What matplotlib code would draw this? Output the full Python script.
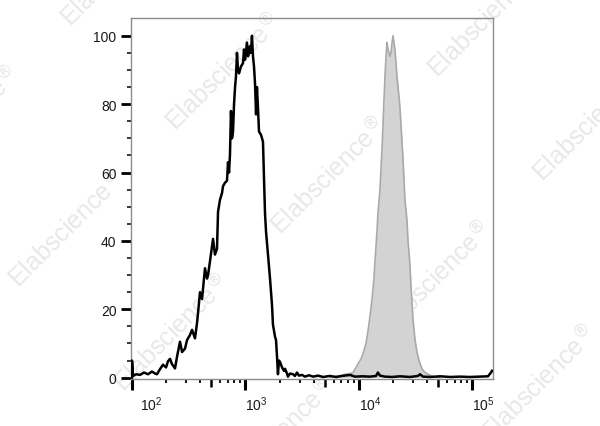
import numpy as np
import matplotlib
matplotlib.use("Agg")
import matplotlib.pyplot as plt
import matplotlib.transforms as mtransforms
from matplotlib.ticker import FixedLocator, NullFormatter

plt.rcParams['font.family'] = ['Liberation Sans', 'DejaVu Sans']

# black histogram (unstained / isotype), x given as log10 of intensity
black_log_x = [2.000, 2.000, 2.009, 2.035, 2.070, 2.106, 2.141, 2.176, 2.203, 2.220,
               2.247, 2.273, 2.300, 2.317, 2.335, 2.352, 2.379, 2.396, 2.423, 2.441,
               2.467, 2.485, 2.511, 2.529, 2.555, 2.573, 2.582, 2.599, 2.617, 2.643,
               2.661, 2.670, 2.687, 2.714, 2.731, 2.749, 2.758, 2.775, 2.793, 2.802,
               2.819, 2.837, 2.846, 2.855, 2.863, 2.872, 2.881, 2.890, 2.899, 2.908,
               2.916, 2.925, 2.934, 2.943, 2.960, 2.978, 2.987, 2.996, 3.013, 3.022,
               3.031, 3.040, 3.048, 3.057, 3.066, 3.075, 3.084, 3.093, 3.101, 3.110,
               3.119, 3.137, 3.154, 3.163, 3.172, 3.181, 3.198, 3.216, 3.234, 3.242,
               3.260, 3.269, 3.278, 3.286, 3.295, 3.304, 3.322, 3.339, 3.348, 3.366,
               3.374, 3.392, 3.419, 3.436, 3.454, 3.471, 3.498, 3.524, 3.560, 3.595,
               3.639, 3.683, 3.744, 3.797, 3.850, 3.921, 3.965, 4.026, 4.097, 4.150,
               4.167, 4.185, 4.229, 4.291, 4.361, 4.449, 4.520, 4.537, 4.564, 4.626,
               4.714, 4.802, 4.890, 4.978, 5.066, 5.137, 5.163, 5.172]
black_y = [0, 5, 0.5, 1, 0.8, 1.5, 1, 1.8, 1.2, 1,
           2.5, 3.8, 3, 4.8, 5.5, 4, 2.7, 6, 10.5, 7.5,
           8.5, 11, 12.5, 14, 11.5, 16, 19, 25, 23, 32,
           29, 30, 34, 40.6, 36, 37.7, 48.5, 52, 54, 56,
           57, 57.6, 63, 60, 65, 78, 70, 72, 80, 85,
           88, 95, 90, 89, 91, 92, 96, 93, 98, 94,
           95, 97, 95, 100, 94, 91, 86, 77, 85, 79,
           72, 71, 69, 58, 48, 42.7, 36, 29, 21, 15.5,
           12, 11, 6, 1, 5, 4.6, 3, 2, 2.6, 1.2,
           0.3, 1.2, 1, 0.5, 1.5, 0.6, 0.8, 0.3, 0.7, 0.3,
           0.6, 0.2, 0.5, 0.2, 0.5, 0.8, 0.3, 0.4, 0.3, 0.5,
           1.5, 0.6, 0.3, 0.2, 0.4, 0.2, 0.5, 1, 0.3, 0.2,
           0.4, 0.2, 0.3, 0.2, 0.3, 0.4, 1.5, 2]

# grey filled histogram (stained sample)
gray_log_x = [3.744, 3.833, 3.877, 3.921, 3.947, 3.974, 3.991, 4.018, 4.035, 4.062,
              4.079, 4.097, 4.115, 4.132, 4.141, 4.159, 4.167, 4.185, 4.203, 4.220,
              4.229, 4.238, 4.247, 4.256, 4.264, 4.273, 4.282, 4.291, 4.300, 4.308,
              4.317, 4.335, 4.353, 4.361, 4.379, 4.388, 4.405, 4.423, 4.432, 4.449,
              4.458, 4.476, 4.494, 4.511, 4.529, 4.555, 4.582, 4.608, 4.652, 4.714]
gray_y = [0.2, 0.5, 1, 1.2, 1.5, 3, 4, 5.5, 7, 10,
          13.5, 18, 23, 29, 34, 43, 48, 55, 67, 81,
          88, 94, 98, 96, 95, 94, 95, 98, 100, 98,
          96, 88, 82, 79, 69, 64, 52, 46, 40, 33,
          27, 17, 11, 7.5, 5, 2.6, 1.5, 1, 0.3, 0]

x_major = [1e2, 1e3, 1e4, 1e5]
x_major_labels = [r'$\mathregular{10^{2}}$', r'$\mathregular{10^{3}}$',
                  r'$\mathregular{10^{4}}$', r'$\mathregular{10^{5}}$']
y_major = [0, 20, 40, 60, 80, 100]

WM_TEXT = 'Elabscience$^{\\circledR}$'


def main():
    fig = plt.figure(figsize=(6, 4.27), dpi=100)

    # watermark lattice (pixel positions of text start), behind the plot
    for m in range(-2, 5):
        for n in range(-2, 3):
            px = 176 + 105 * m + 157 * n
            py = 132 + 104 * m - 157 * n
            if -200 < px < 620 and -20 < py < 560:
                fig.text(px / 600, 1 - py / 427, WM_TEXT, rotation=45,
                         rotation_mode='anchor', ha='left', va='baseline',
                         fontsize=18, color='#e8e8e8', zorder=-1)

    ax = fig.add_axes([0.2183, 0.1108, 0.6034, 0.8447])
    ax.patch.set_alpha(0)

    gx = 10 ** np.array(gray_log_x)
    bx = 10 ** np.array(black_log_x)
    ax.fill_between(gx, gray_y, 0, color='#d3d3d3', lw=0, zorder=2)
    ax.plot(gx, gray_y, color='#a9a9a9', lw=1.2, zorder=2.5)
    ax.plot(bx, black_y, color='black', lw=1.8, zorder=3)

    ax.set_xscale('log')
    ax.set_xlim(10 ** 1.991, 10 ** 5.181)
    ax.set_ylim(-0.3, 105.2)

    for s in ax.spines.values():
        s.set_color('#8c8c8c')
        s.set_linewidth(1.0)

    # x ticks
    ax.xaxis.set_major_locator(FixedLocator(x_major))
    ax.set_xticklabels(x_major_labels, ha='left')
    minors = [k * 10 ** e for e in (2, 3, 4) for k in (2, 3, 4, 6, 7, 8, 9)]
    ax.xaxis.set_minor_locator(FixedLocator(minors))
    ax.xaxis.set_minor_formatter(NullFormatter())
    ax.tick_params(axis='x', which='major', direction='out', length=8, width=2.2,
                   pad=3, labelsize=10, colors='black', labelcolor='#1a1a1a')
    ax.tick_params(axis='x', which='minor', direction='out', length=3.2, width=1.3,
                   colors='black')

    # medium ticks at 5 x 10^n
    sec = ax.secondary_xaxis('bottom')
    sec.set_xticks([5e2, 5e3, 5e4])
    sec.set_xticklabels([])
    sec.xaxis.set_minor_locator(FixedLocator([]))
    sec.tick_params(axis='x', which='major', direction='out', length=5.5, width=1.8,
                    colors='black')
    sec.spines['bottom'].set_visible(False)

    # y ticks
    ax.set_yticks(y_major)
    ax.yaxis.set_minor_locator(FixedLocator([v for v in range(5, 105, 5) if v % 20]))
    ax.tick_params(axis='y', which='major', direction='out', length=7, width=2.0,
                   pad=3.5, labelsize=10, colors='black', labelcolor='#1a1a1a')
    ax.tick_params(axis='y', which='minor', direction='out', length=3, width=1.1,
                   colors='black')

    # first decade label sits a bit right of its tick
    lab = ax.get_xticklabels()[0]
    lab.set_transform(lab.get_transform() +
                      mtransforms.ScaledTranslation(8 / 100, 0, fig.dpi_scale_trans))

    fig.savefig('out.png', dpi=100)
    plt.close(fig)


if __name__ == "__main__":
    main()
